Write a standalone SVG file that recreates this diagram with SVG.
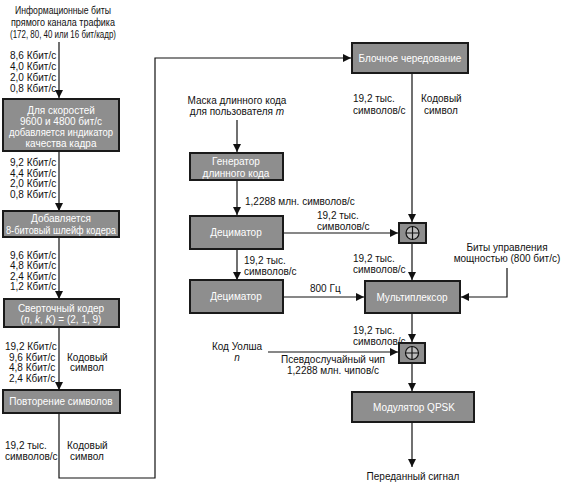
<svg xmlns="http://www.w3.org/2000/svg" width="562" height="484" viewBox="0 0 562 484">
<style>
.box{fill:#8e8e8e;stroke:#1a1a1a;stroke-width:2}
.bt{font-family:"Liberation Sans",Arial,sans-serif;font-size:10px;fill:#fff;text-anchor:middle}
.t{font-family:"Liberation Sans",Arial,sans-serif;font-size:10px;fill:#111}
.m{text-anchor:middle}
.ln{fill:none;stroke:#111;stroke-width:1.2}
</style>
<defs>
<marker id="ah" viewBox="0 0 10 10" refX="10" refY="5" markerWidth="8" markerHeight="8" markerUnits="userSpaceOnUse" orient="auto">
<path d="M0,0 L10,5 L0,10 z" fill="#111"/>
</marker>
</defs>
<rect width="562" height="484" fill="#fff"/>

<g id="connectors">
<line class="ln" x1="59" y1="42" x2="59" y2="98" marker-end="url(#ah)"/>
<line class="ln" x1="59" y1="151" x2="59" y2="211" marker-end="url(#ah)"/>
<line class="ln" x1="59" y1="237" x2="59" y2="299" marker-end="url(#ah)"/>
<line class="ln" x1="59" y1="327" x2="59" y2="390" marker-end="url(#ah)"/>
<polyline class="ln" points="59,413 59,478 155,478 155,58 351,58" marker-end="url(#ah)"/>
<line class="ln" x1="412" y1="73" x2="412" y2="222" marker-end="url(#ah)"/>
<line class="ln" x1="237" y1="120" x2="237" y2="152" marker-end="url(#ah)"/>
<line class="ln" x1="237" y1="180" x2="237" y2="215" marker-end="url(#ah)"/>
<line class="ln" x1="283" y1="233" x2="398" y2="233" marker-end="url(#ah)"/>
<line class="ln" x1="237" y1="249" x2="237" y2="280" marker-end="url(#ah)"/>
<line class="ln" x1="283" y1="297" x2="364" y2="297" marker-end="url(#ah)"/>
<line class="ln" x1="412" y1="243" x2="412" y2="280" marker-end="url(#ah)"/>
<polyline class="ln" points="507,268 507,297 461,297" marker-end="url(#ah)"/>
<line class="ln" x1="412" y1="313" x2="412" y2="342" marker-end="url(#ah)"/>
<line class="ln" x1="268" y1="352" x2="398" y2="352" marker-end="url(#ah)"/>
<line class="ln" x1="412" y1="363" x2="412" y2="391" marker-end="url(#ah)"/>
<line class="ln" x1="412" y1="423" x2="412" y2="467" marker-end="url(#ah)"/>
</g>

<g id="input-label">
<text class="t m" x="63" y="14" textLength="96" lengthAdjust="spacingAndGlyphs">Информационные биты</text>
<text class="t m" x="63" y="26" textLength="104" lengthAdjust="spacingAndGlyphs">прямого канала трафика</text>
<text class="t m" x="63" y="38" textLength="106" lengthAdjust="spacingAndGlyphs">(172, 80, 40 или 16 бит/кадр)</text>
</g>
<g id="rates1">
<text class="t" x="10" y="59">8,6 Кбит/с</text>
<text class="t" x="10" y="70">4,0 Кбит/с</text>
<text class="t" x="10" y="81">2,0 Кбит/с</text>
<text class="t" x="10" y="92">0,8 Кбит/с</text>
</g>
<g id="quality">
<rect class="box" x="3" y="99" width="116" height="52"/>
<text class="bt" x="61" y="114">Для скоростей</text>
<text class="bt" x="61" y="125">9600 и 4800 бит/с</text>
<text class="bt" x="61" y="136" textLength="104" lengthAdjust="spacingAndGlyphs">добавляется индикатор</text>
<text class="bt" x="61" y="147">качества кадра</text>
</g>
<g id="rates2">
<text class="t" x="10" y="166">9,2 Кбит/с</text>
<text class="t" x="10" y="177">4,4 Кбит/с</text>
<text class="t" x="10" y="187">2,0 Кбит/с</text>
<text class="t" x="10" y="198">0,8 Кбит/с</text>
</g>
<g id="tail">
<rect class="box" x="3" y="211" width="116" height="26"/>
<text class="bt" x="61" y="222">Добавляется</text>
<text class="bt" x="61" y="234" textLength="110" lengthAdjust="spacingAndGlyphs">8-битовый шлейф кодера</text>
</g>
<g id="rates3">
<text class="t" x="10" y="259">9,6 Кбит/с</text>
<text class="t" x="10" y="269">4,8 Кбит/с</text>
<text class="t" x="10" y="280">2,4 Кбит/с</text>
<text class="t" x="10" y="290">1,2 Кбит/с</text>
</g>
<g id="conv">
<rect class="box" x="4" y="299" width="115" height="28"/>
<text class="bt" x="61" y="312">Сверточный кодер</text>
<text class="bt" x="61" y="323">(<tspan font-style="italic">n</tspan>, <tspan font-style="italic">k</tspan>, <tspan font-style="italic">K</tspan>) = (2, 1, 9)</text>
</g>
<g id="rates4">
<text class="t" x="5" y="350">19,2 Кбит/с</text>
<text class="t" x="9" y="361">9,6 Кбит/с</text>
<text class="t" x="9" y="371">4,8 Кбит/с</text>
<text class="t" x="9" y="382">2,4 Кбит/с</text>
<text class="t" x="67" y="361">Кодовый</text>
<text class="t" x="70" y="371">символ</text>
</g>
<g id="repeat">
<rect class="box" x="3" y="390" width="117" height="23"/>
<text class="bt" x="61" y="405">Повторение символов</text>
</g>
<g id="rates5">
<text class="t" x="5" y="449">19,2 тыс.</text>
<text class="t" x="5" y="460">символов/с</text>
<text class="t" x="67" y="449">Кодовый</text>
<text class="t" x="70" y="460">символ</text>
</g>
<g id="interleave">
<rect class="box" x="352" y="43" width="116" height="30"/>
<text class="bt" x="410" y="62">Блочное чередование</text>
</g>
<g id="rates6">
<text class="t" x="353" y="102">19,2 тыс.</text>
<text class="t" x="353" y="114">символов/с</text>
<text class="t" x="421" y="102">Кодовый</text>
<text class="t" x="424" y="114">символ</text>
</g>
<g id="mask">
<text class="t m" x="237" y="104">Маска длинного кода</text>
<text class="t m" x="237" y="115">для пользователя <tspan font-style="italic">m</tspan></text>
</g>
<g id="generator">
<rect class="box" x="190" y="153" width="93" height="27"/>
<text class="bt" x="236" y="165">Генератор</text>
<text class="bt" x="236" y="177">длинного кода</text>
</g>
<text class="t" x="245" y="205">1,2288 млн. символов/с</text>
<g id="rates7">
<text class="t" x="317" y="219">19,2 тыс.</text>
<text class="t" x="317" y="230">символов/с</text>
</g>
<g id="decim1">
<rect class="box" x="190" y="216" width="93" height="33"/>
<text class="bt" x="236" y="236">Дециматор</text>
</g>
<g id="xor1">
<rect class="box" x="399" y="223" width="27" height="20"/>
<circle cx="412.5" cy="233" r="6.5" fill="#bdbdbd" stroke="#111" stroke-width="1.2"/>
<path d="M406,233 H419 M412.5,226.5 V239.5" stroke="#111" stroke-width="1.2"/>
</g>
<g id="power">
<text class="t m" x="507" y="251">Биты управления</text>
<text class="t m" x="507" y="262">мощностью (800 бит/с)</text>
</g>
<g id="rates8">
<text class="t" x="353" y="262">19,2 тыс.</text>
<text class="t" x="353" y="273">символов/с</text>
<text class="t" x="244" y="264">19,2 тыс.</text>
<text class="t" x="244" y="275">символов/с</text>
</g>
<g id="decim2">
<rect class="box" x="190" y="280" width="93" height="33"/>
<text class="bt" x="236" y="300">Дециматор</text>
</g>
<text class="t" x="310" y="292">800 Гц</text>
<g id="mux">
<rect class="box" x="365" y="281" width="95" height="32"/>
<text class="bt" x="412" y="301">Мультиплексор</text>
</g>
<g id="rates9">
<text class="t" x="353" y="334">19,2 тыс.</text>
<text class="t" x="353" y="345">символов/с</text>
</g>
<g id="walsh">
<text class="t m" x="237" y="350">Код Уолша</text>
<text class="t m" x="237" y="361" font-style="italic">n</text>
</g>
<g id="xor2">
<rect class="box" x="399" y="343" width="26" height="20"/>
<circle cx="412" cy="353" r="6.5" fill="#bdbdbd" stroke="#111" stroke-width="1.2"/>
<path d="M405.5,353 H418.5 M412,346.5 V359.5" stroke="#111" stroke-width="1.2"/>
</g>
<g id="pn">
<text class="t m" x="333" y="363">Псевдослучайный чип</text>
<text class="t m" x="333" y="374">1,2288 млн. чипов/с</text>
</g>
<g id="qpsk">
<rect class="box" x="352" y="392" width="122" height="30"/>
<text class="bt" x="414" y="411">Модулятор QPSK</text>
</g>
<text class="t m" x="413" y="480">Переданный сигнал</text>
</svg>
